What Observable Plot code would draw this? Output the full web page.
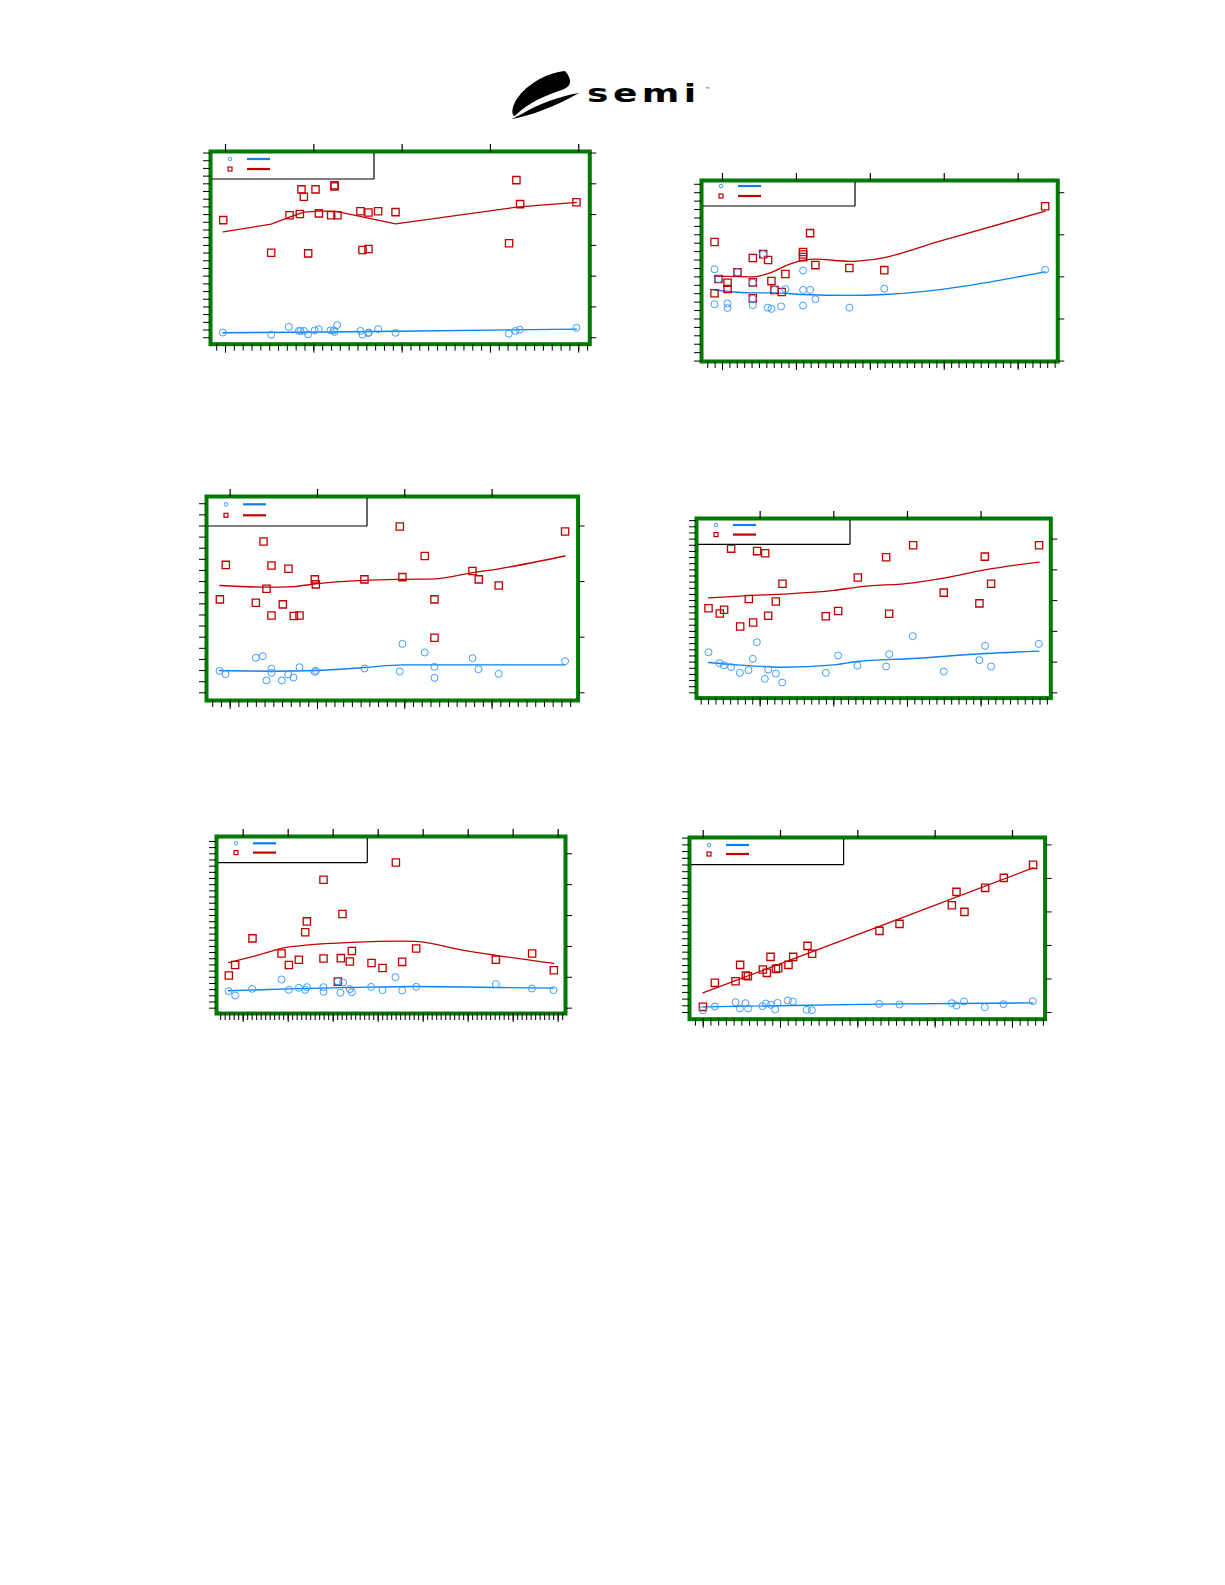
<!DOCTYPE html>
<html>
<head>
<meta charset="utf-8">
<script src="https://cdn.jsdelivr.net/npm/d3@7"></script>
<script src="https://cdn.jsdelivr.net/npm/@observablehq/plot@0.6"></script>
<style>
  body { margin: 0; background: #fff; }
  #page { position: relative; width: 1225px; height: 1585px; overflow: hidden; background: #fff; font-family: "DejaVu Sans", sans-serif; }
  .panel, .legend, #logo { position: absolute; }
  .panel svg { display: block; }
</style>
</head>
<body>
<div id="page">
  <svg id="logo" style="left:500px;top:60px" width="220" height="70" viewBox="500 60 220 70">
    <path d="M565,71 C545,73 524,86 515,102 C511,110 512,116 515,116 C522,108 538,98 556,92 C566,89 571,86 570,80 C569,76 567,73 565,71 Z" fill="#000"/>
    <path d="M512,119 C530,116 556,106 579,93 C560,96 538,104 520,115 C516,117 513,118 512,119 Z" fill="#000"/>
    <text transform="translate(587,101.5) scale(1.5,1)" font-family="DejaVu Sans" font-size="24" font-weight="bold" letter-spacing="3" fill="#000">semi</text>
    <text x="705" y="91" font-family="DejaVu Sans" font-size="5" fill="#000">™</text>
  </svg>
</div>
<script>
// ---------- data (x, y in axis units) ----------
const p1Circles = [[-0.030,0.17],[0.517,0.10],[0.717,0.35],[0.830,0.22],[0.849,0.22],[0.887,0.22],[0.936,0.11],[1.011,0.24],[1.057,0.28],[1.189,0.24],[1.226,0.24],[1.234,0.19],[1.264,0.41],[1.528,0.22],[1.551,0.10],[1.615,0.15],[1.623,0.17],[1.728,0.28],[1.925,0.16],[3.208,0.13],[3.283,0.22],[3.332,0.26],[3.974,0.32]];
const p1Squares = [[-0.026,3.82],[0.517,2.76],[0.725,3.98],[0.842,4.02],[0.860,4.82],[0.887,4.58],[0.936,2.74],[1.019,4.82],[1.057,4.04],[1.196,3.98],[1.234,4.95],[1.234,4.91],[1.268,3.98],[1.528,4.11],[1.551,2.85],[1.619,4.07],[1.619,2.88],[1.728,4.11],[1.925,4.08],[3.211,3.07],[3.294,5.12],[3.336,4.34],[3.974,4.40]];
const p1BlueLine = [[-0.030,0.16],[0.887,0.18],[1.925,0.21],[3.974,0.28]];
const p1RedLine = [[-0.026,3.44],[0.517,3.69],[0.725,3.92],[0.887,4.08],[1.057,4.11],[1.234,4.11],[1.566,3.92],[1.925,3.70],[3.294,4.24],[3.974,4.40]];

const p2Circles = [[-0.108,2.18],[-0.054,1.95],[-0.108,1.35],[0.068,1.37],[0.068,1.26],[0.203,2.11],[0.410,1.86],[0.410,1.48],[0.410,1.33],[0.550,2.54],[0.613,1.27],[0.662,1.24],[0.703,1.69],[0.793,1.30],[0.851,1.71],[1.090,2.15],[1.090,1.69],[1.090,1.32],[1.185,1.69],[1.257,1.47],[1.716,1.27],[2.189,1.72],[4.365,2.17]];
const p2Squares = [[-0.108,2.83],[-0.054,1.95],[-0.108,1.61],[0.068,1.86],[0.068,1.71],[0.203,2.11],[0.410,2.45],[0.410,1.87],[0.410,1.49],[0.550,2.54],[0.617,2.40],[0.662,1.90],[0.703,1.69],[0.802,1.64],[0.851,2.07],[1.090,2.59],[1.090,2.53],[1.090,2.47],[1.185,3.04],[1.257,2.28],[1.716,2.21],[2.189,2.16],[4.365,3.68]];
const p2BlueLine = [[-0.108,1.69],[0.410,1.62],[0.703,1.62],[1.090,1.58],[1.716,1.56],[2.189,1.58],[4.365,2.12]];
const p2RedLine = [[-0.108,2.01],[0.068,2.01],[0.410,2.00],[0.653,2.10],[0.851,2.26],[1.090,2.39],[1.257,2.42],[1.716,2.37],[2.189,2.46],[2.905,2.83],[4.365,3.56]];

const p3Circles = [[-0.122,0.395],[-0.053,0.335],[0.294,0.629],[0.374,0.659],[0.416,0.222],[0.473,0.431],[0.473,0.359],[0.592,0.222],[0.664,0.329],[0.725,0.275],[0.794,0.461],[0.969,0.377],[0.981,0.395],[1.538,0.437],[1.943,0.383],[1.973,0.880],[2.229,0.725],[2.340,0.467],[2.340,0.269],[2.775,0.623],[2.844,0.425],[3.076,0.341],[3.836,0.569]];
const p3Squares = [[-0.118,1.68],[-0.050,2.30],[0.294,1.62],[0.382,2.72],[0.416,1.87],[0.473,2.29],[0.473,1.39],[0.603,1.59],[0.668,2.23],[0.729,1.38],[0.794,1.39],[0.969,2.04],[0.981,1.95],[1.538,2.04],[1.943,2.99],[1.973,2.08],[2.229,2.46],[2.340,1.68],[2.340,0.99],[2.775,2.19],[2.847,2.04],[3.076,1.93],[3.836,2.90]];
const p3BlueLine = [[-0.122,0.401],[0.473,0.389],[0.981,0.401],[1.538,0.455],[1.973,0.503],[2.355,0.503],[3.836,0.503]];
const p3RedLine = [[-0.118,1.93],[0.416,1.90],[0.729,1.91],[0.981,1.96],[1.538,2.02],[1.973,2.04],[2.355,2.05],[2.775,2.16],[3.076,2.23],[3.836,2.46]];

const p4Circles = [[-0.701,1.32],[-0.552,0.965],[-0.493,0.90],[-0.394,0.835],[-0.276,0.651],[-0.158,0.738],[-0.100,1.106],[-0.045,1.649],[0.063,0.456],[0.109,0.759],[0.213,0.629],[0.299,0.336],[0.891,0.651],[1.059,1.215],[1.321,0.889],[1.710,0.857],[1.751,1.258],[2.072,1.844],[2.493,0.694],[2.977,1.063],[3.054,1.529],[3.136,0.857],[3.783,1.594]];
const p4Squares = [[-0.701,2.75],[-0.548,2.58],[-0.489,2.70],[-0.394,4.69],[-0.271,2.16],[-0.154,3.05],[-0.095,2.29],[-0.041,4.61],[0.068,4.54],[0.109,2.51],[0.213,2.97],[0.303,3.55],[0.891,2.49],[1.059,2.66],[1.326,3.75],[1.710,4.41],[1.751,2.57],[2.077,4.80],[2.493,3.26],[2.977,2.91],[3.050,4.43],[3.136,3.55],[3.787,4.80]];
const p4BlueLine = [[-0.701,0.987],[-0.312,0.911],[0.299,0.835],[1.000,0.911],[1.321,1.020],[2.072,1.117],[3.054,1.280],[3.783,1.356]];
const p4RedLine = [[-0.701,3.09],[-0.095,3.17],[0.303,3.21],[1.000,3.33],[1.326,3.44],[2.077,3.58],[2.493,3.73],[3.050,4.00],[3.787,4.25]];

const p5Circles = [[-0.326,0.551],[-0.178,0.410],[0.200,0.626],[0.852,0.929],[1.015,0.594],[1.237,0.659],[1.378,0.594],[1.415,0.680],[1.785,0.680],[1.785,0.529],[2.104,0.864],[2.163,0.497],[2.222,0.832],[2.370,0.616],[2.415,0.518],[2.844,0.691],[3.096,0.583],[3.385,1.004],[3.533,0.572],[3.844,0.691],[5.615,0.778],[6.415,0.637],[6.896,0.583]];
const p5Squares = [[-0.319,1.06],[-0.178,1.40],[0.207,2.26],[0.852,1.77],[1.015,1.40],[1.237,1.57],[1.378,2.46],[1.415,2.81],[1.785,4.16],[1.785,1.61],[2.104,0.86],[2.170,1.62],[2.207,3.05],[2.370,1.51],[2.415,1.85],[2.852,1.46],[3.096,1.30],[3.393,4.72],[3.533,1.50],[3.844,1.93],[5.615,1.57],[6.422,1.77],[6.904,1.23]];
const p5BlueLine = [[-0.326,0.562],[1.015,0.626],[2.415,0.670],[3.844,0.702],[5.615,0.670],[6.896,0.648]];
const p5RedLine = [[-0.319,1.48],[0.207,1.67],[0.993,1.98],[1.385,2.04],[2.415,2.13],[3.533,2.17],[3.844,2.16],[4.867,1.88],[5.615,1.71],[6.904,1.45]];

const p6Circles = [[-0.004,0.070],[0.151,0.179],[0.418,0.308],[0.474,0.119],[0.547,0.278],[0.582,0.119],[0.767,0.189],[0.810,0.268],[0.875,0.229],[0.931,0.089],[0.961,0.288],[1.095,0.358],[1.159,0.328],[1.340,0.080],[1.405,0.070],[2.276,0.258],[2.539,0.239],[3.216,0.278],[3.276,0.209],[3.375,0.328],[3.642,0.159],[3.884,0.249],[4.263,0.338]];
const p6Squares = [[-0.004,0.169],[0.151,0.885],[0.418,0.934],[0.478,1.421],[0.552,1.103],[0.578,1.083],[0.772,1.282],[0.823,1.183],[0.871,1.660],[0.940,1.302],[0.970,1.322],[1.103,1.421],[1.164,1.660],[1.349,1.988],[1.409,1.750],[2.280,2.435],[2.539,2.644],[3.216,3.201],[3.276,3.598],[3.379,3.002],[3.647,3.718],[3.888,4.016],[4.267,4.404]];
const p6BlueLine = [[-0.004,0.169],[2.276,0.249],[4.263,0.288]];
const p6RedLine = [[-0.004,0.586],[1.414,1.819],[2.534,2.793],[4.267,4.314]];

// ---------- layout (frame rectangle in page pixels, axis domains) ----------
const panels = [
  {L:210,   T:151,   R:589.3,  B:343.7,  xd:[-0.17,4.125],  yd:[-0.21,6.05],  ystep:0.25, curve:"linear",     leg:[164,28],   rows:[8,18],     data:[p1Circles,p1Squares,p1BlueLine,p1RedLine]},
  {L:700.7, T:180,   R:1057,   B:361,    xd:[-0.284,4.536], yd:[-0.01,4.29],  ystep:0.2,  curve:"monotone-x", leg:[154,26],   rows:[6,16],     data:[p2Circles,p2Squares,p2BlueLine,p2RedLine]},
  {L:205.7, T:495.7, R:577.3,  B:699.7,  xd:[-0.271,3.985], yd:[-0.138,3.53], ystep:0.2,  curve:"monotone-x", leg:[161,30],   rows:[8.3,19.3], data:[p3Circles,p3Squares,p3BlueLine,p3RedLine]},
  {L:696,   T:517.7, R:1050.3, B:697.3,  xd:[-0.864,3.946], yd:[-0.17,5.67],  ystep:0.2,  curve:"monotone-x", leg:[154,26.3], rows:[7,16.6],   data:[p4Circles,p4Squares,p4BlueLine,p4RedLine]},
  {L:216,   T:835.7, R:565,    B:1012.7, xd:[-0.593,7.163], yd:[-0.173,5.56], ystep:0.2,  curve:"monotone-x", leg:[151.3,26.6],rows:[7.3,16.6], data:[p5Circles,p5Squares,p5BlueLine,p5RedLine]},
  {L:688.7, T:837.3, R:1044.3, B:1019,   xd:[-0.177,4.422], yd:[-0.199,5.22], ystep:0.2,  curve:"linear",     leg:[154.6,27.7],rows:[8,17],     data:[p6Circles,p6Squares,p6BlueLine,p6RedLine]},
];

const RED = "#c00000", BLUE_LINE = "#0a80f5", BLUE_DOT = "#3d9bff", GREEN = "#007a00";
const page = document.getElementById("page");

function stepTicks(dom, step) {
  return d3.range(Math.ceil(dom[0] / step - 1e-9), Math.floor(dom[1] / step + 1e-9) + 1).map(i => +(i * step).toFixed(4));
}

const px = d => d[0], py = d => d[1];

for (const p of panels) {
  const [circles, squares, blueLine, redLine] = p.data;
  const m = 14;
  const W = p.R - p.L, H = p.B - p.T;
  const xMajor = stepTicks(p.xd, 1), xMinor = stepTicks(p.xd, 0.1);
  const yMajor = stepTicks(p.yd, 1), yMinor = stepTicks(p.yd, p.ystep);
  const chart = Plot.plot({
    width: W + 2 * m, height: H + 2 * m,
    marginLeft: m, marginRight: m, marginTop: m, marginBottom: m,
    x: {domain: p.xd, label: null},
    y: {domain: p.yd, label: null},
    style: {background: "transparent", overflow: "visible"},
    marks: [
      Plot.line(redLine, {x: px, y: py, stroke: RED, strokeWidth: 1.3, curve: p.curve}),
      Plot.line(blueLine, {x: px, y: py, stroke: BLUE_LINE, strokeWidth: 1.4, curve: p.curve}),
      Plot.dot(squares, {x: px, y: py, symbol: "square", r: 4.1, stroke: RED, strokeWidth: 1.3, fill: "none"}),
      Plot.dot(circles, {x: px, y: py, r: 3.5, stroke: BLUE_DOT, strokeWidth: 1, fill: "none"}),
      Plot.frame({stroke: GREEN, strokeWidth: 4}),
      Plot.axisX(xMajor, {anchor: "top", tickSize: 8, fill: "none", label: null, strokeWidth: 1.2}),
      Plot.axisX(xMinor, {anchor: "bottom", tickSize: 7, fill: "none", label: null}),
      Plot.axisX(xMajor, {anchor: "bottom", tickSize: 9, fill: "none", label: null}),
      Plot.axisY(yMinor, {anchor: "left", tickSize: 7, fill: "none", label: null}),
      Plot.axisY(yMajor, {anchor: "right", tickSize: 6, fill: "none", label: null})
    ]
  });
  const div = document.createElement("div");
  div.className = "panel";
  div.style.left = (p.L - m) + "px";
  div.style.top = (p.T - m) + "px";
  div.appendChild(chart);
  page.appendChild(div);

  // legend box (symbols only, as in the source)
  const [lw, lh] = p.leg, [ra, rb] = p.rows;
  const ns = "http://www.w3.org/2000/svg";
  const lg = document.createElementNS(ns, "svg");
  lg.setAttribute("class", "legend");
  lg.setAttribute("width", lw + 2);
  lg.setAttribute("height", lh + 2);
  lg.style.left = p.L + "px";
  lg.style.top = p.T + "px";
  lg.innerHTML =
    `<line x1="${lw}" y1="2" x2="${lw}" y2="${lh}" stroke="#000" stroke-width="1.2"/>` +
    `<line x1="2" y1="${lh}" x2="${lw}" y2="${lh}" stroke="#000" stroke-width="1.2"/>` +
    `<circle cx="20" cy="${ra}" r="1.8" fill="none" stroke="${BLUE_DOT}" stroke-width="1"/>` +
    `<line x1="37" y1="${ra}" x2="60" y2="${ra}" stroke="${BLUE_LINE}" stroke-width="2.2"/>` +
    `<rect x="18" y="${rb - 2}" width="4" height="4" fill="none" stroke="${RED}" stroke-width="1.2"/>` +
    `<line x1="37" y1="${rb}" x2="60" y2="${rb}" stroke="${RED}" stroke-width="2.2"/>`;
  page.appendChild(lg);
}
</script>
</body>
</html>
